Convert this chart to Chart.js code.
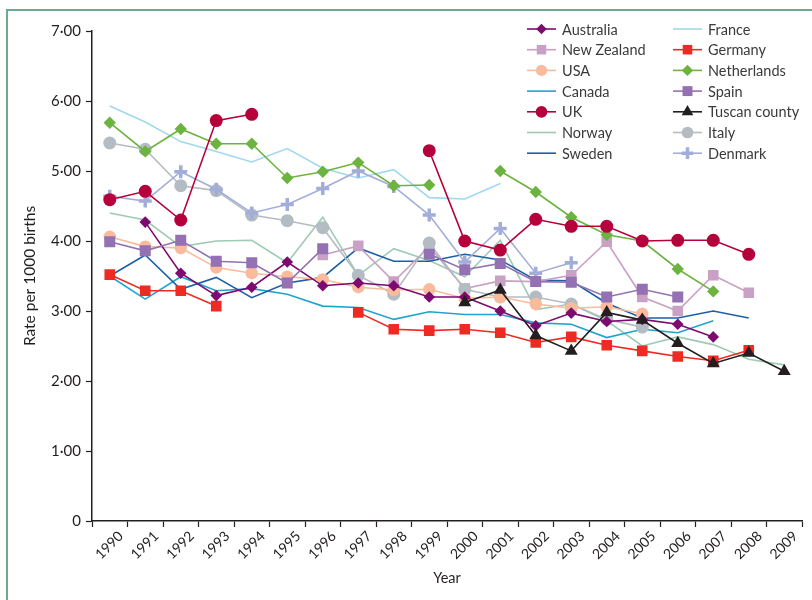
<!DOCTYPE html>
<html>
<head>
<meta charset="utf-8">
<title>Rate per 1000 births, 1990-2009</title>
<script src="https://cdn.jsdelivr.net/npm/chart.js@4.4.1/dist/chart.umd.min.js"></script>
<style>
    html, body { margin: 0; padding: 0; background: #fff; overflow: hidden; }
    #wrap { position: relative; width: 812px; height: 600px; }
    #wrap canvas { position: absolute; left: 0; top: 0; }
    /* green panel frame, only top and left edges fall inside the page */
    #frame { position: absolute; left: 6px; top: 9px; width: 900px; height: 700px;
             border: 2px solid #6cab8d; pointer-events: none; }
</style>
</head>
<body>
<div id="wrap">
    <canvas id="chart-rates" width="812" height="600"></canvas>
    <div id="frame"></div>
</div>
<script>
// Years on the x axis
const years = ['1990', '1991', '1992', '1993', '1994', '1995', '1996', '1997', '1998', '1999',
               '2000', '2001', '2002', '2003', '2004', '2005', '2006', '2007', '2008', '2009'];

// Rate per 1000 births, null where a country has no figure
const australia   = [null, 4.27, 3.54, 3.22, 3.34, 3.70, 3.36, 3.40, 3.36, 3.20, 3.20, 3.00, 2.79, 2.97, 2.85, 2.88, 2.81, 2.63, null, null];
const newZealand  = [null, null, null, null, null, null, 3.80, 3.93, 3.42, 3.92, 3.32, 3.43, 3.42, 3.51, 3.99, 3.20, 3.00, 3.51, 3.26, null];
const usa         = [4.06, 3.92, 3.90, 3.62, 3.54, 3.49, 3.45, 3.34, 3.30, 3.31, 3.18, 3.20, 3.10, 3.04, 3.06, 2.96, null, null, null, null];
const canada      = [3.50, 3.17, 3.49, 3.29, 3.32, 3.24, 3.07, 3.05, 2.88, 2.99, 2.95, 2.95, 2.83, 2.81, 2.62, 2.74, 2.69, 2.86, null, null];
const uk          = [4.59, 4.71, 4.30, 5.72, 5.81, null, null, null, null, 5.29, 4.00, 3.87, 4.31, 4.21, 4.21, 4.00, 4.01, 4.01, 3.81, null];
const norway      = [4.40, 4.30, 3.92, 4.00, 4.01, 3.69, 4.34, 3.51, 3.89, 3.72, 3.49, 4.01, 3.02, 3.10, 2.86, 2.50, 2.63, 2.52, 2.31, 2.23];
const sweden      = [3.50, 3.80, 3.31, 3.48, 3.19, 3.40, 3.48, 3.90, 3.71, 3.71, 3.81, 3.73, 3.44, 3.43, 3.11, 2.90, 2.90, 3.00, 2.90, null];
const france      = [5.93, 5.70, 5.42, 5.28, 5.13, 5.32, 5.04, 4.90, 5.02, 4.62, 4.60, 4.82, null, null, null, null, null, null, null, null];
const germany     = [3.52, 3.29, 3.29, 3.07, null, null, null, 2.98, 2.74, 2.72, 2.74, 2.69, 2.55, 2.63, 2.51, 2.43, 2.35, 2.29, 2.44, null];
const netherlands = [5.69, 5.28, 5.60, 5.39, 5.39, 4.90, 4.99, 5.12, 4.79, 4.80, null, 5.00, 4.70, 4.34, 4.09, 4.00, 3.60, 3.28, null, null];
const spain       = [3.99, 3.86, 4.01, 3.71, 3.69, 3.40, 3.89, null, null, 3.81, 3.59, 3.68, 3.42, 3.41, 3.20, 3.31, 3.20, null, null, null];
const tuscany     = [null, null, null, null, null, null, null, null, null, null, 3.12, 3.30, 2.65, 2.43, 2.98, 2.87, 2.54, 2.25, 2.40, 2.14];
const italy       = [5.40, 5.31, 4.79, 4.72, 4.37, 4.29, 4.19, 3.51, 3.24, 3.97, 3.31, 3.20, 3.20, 3.10, 2.88, 2.77, null, null, null, null];
const denmark     = [4.64, 4.57, 4.99, 4.74, 4.40, 4.52, 4.75, 5.00, 4.78, 4.37, 3.70, 4.18, 3.54, 3.69, null, null, null, null, null, null];

// y ticks: 0 to 7 in whole steps
const yTicks = [0, 1, 2, 3, 4, 5, 6, 7];

// legend columns, in reading order
const legendLeft  = ['Australia', 'New Zealand', 'USA', 'Canada', 'UK', 'Norway', 'Sweden'];
const legendRight = ['France', 'Germany', 'Netherlands', 'Spain', 'Tuscan county', 'Italy', 'Denmark'];

const FONT = 'Lato, "Noto Sans", sans-serif';
const INK = '#231f20';

// one line series; lower "order" is painted on top
function series(label, data, color, style, radius, order, pointLine) {
    return {
        label: label,
        data: data,
        borderColor: color,
        backgroundColor: color,
        borderWidth: 1.6,
        tension: 0,
        spanGaps: false,
        pointStyle: style || 'circle',
        pointRadius: style ? radius : 0,
        pointHoverRadius: style ? radius : 0,
        pointBackgroundColor: color,
        pointBorderColor: color,
        pointBorderWidth: pointLine || 0,
        order: order
    };
}

const datasets = [
    series('Australia',     australia,   '#7d0b6f', 'rectRot',  5.8, 3),
    series('New Zealand',   newZealand,  '#c9a1c5', 'rect',     7.5, 9),
    series('USA',           usa,         '#f9bb9c', 'circle',   6.2, 7),
    series('Canada',        canada,      '#20a4cf', null,       0,   12),
    series('UK',            uk,          '#b5003b', 'circle',   6.5, 1),
    series('Norway',        norway,      '#9fcab3', null,       0,   13),
    series('Sweden',        sweden,      '#1c5ea8', null,       0,   11),
    series('France',        france,      '#a0d8ee', null,       0,   14),
    series('Germany',       germany,     '#ee2b23', 'rect',     7.5, 4),
    series('Netherlands',   netherlands, '#6cb33f', 'rectRot',  6.2, 5),
    series('Spain',         spain,       '#9371b3', 'rect',     7.8, 2),
    series('Tuscan county', tuscany,     INK,       'triangle', 7.5, 0),
    series('Italy',         italy,       '#b4bcc3', 'circle',   6.5, 8),
    series('Denmark',       denmark,     '#a2aed9', 'cross',    6.5, 6, 3.5)
];

// two-column legend drawn in the upper right of the plot
const columnLegend = {
    id: 'columnLegend',
    afterDraw(chart) {
        const ctx = chart.ctx;
        const colX = [527, 673];
        const rowY = 29, rowGap = 20.7;
        ctx.save();
        ctx.font = '14.5px ' + FONT;
        ctx.textBaseline = 'middle';
        ctx.textAlign = 'left';
        [legendLeft, legendRight].forEach((names, c) => {
            names.forEach((name, r) => {
                const ds = chart.data.datasets.find(d => d.label === name);
                if (!ds) return;
                const x = colX[c], y = rowY + r * rowGap;
                ctx.strokeStyle = ds.borderColor;
                ctx.fillStyle = ds.borderColor;
                ctx.lineWidth = 1.6;
                ctx.beginPath();
                ctx.moveTo(x, y);
                ctx.lineTo(x + 29, y);
                ctx.stroke();
                if (ds.pointRadius > 0) {
                    ctx.lineWidth = ds.pointBorderWidth;
                    Chart.helpers.drawPoint(ctx, {
                        pointStyle: ds.pointStyle,
                        radius: ds.pointRadius * 0.9,
                        rotation: 0,
                        borderWidth: ds.pointBorderWidth
                    }, x + 14.5, y);
                }
                ctx.fillStyle = '#3a3a3a';
                ctx.fillText(name, x + 35, y + 1);
            });
        });
        ctx.restore();
    }
};

const ctx = document.getElementById('chart-rates').getContext('2d');
new Chart(ctx, {
    type: 'line',
    data: { labels: years, datasets: datasets },
    plugins: [columnLegend],
    options: {
        responsive: false,
        animation: false,
        devicePixelRatio: 1,
        layout: { padding: { top: 31, right: 6, bottom: 0, left: 0 } },
        plugins: {
            legend: { display: false },
            tooltip: { enabled: false }
        },
        scales: {
            x: {
                type: 'category',
                offset: true,
                afterFit(scale) { scale.height = 79; },
                grid: {
                    offset: true,
                    drawOnChartArea: false,
                    drawTicks: true,
                    tickLength: 6,
                    tickColor: INK,
                    tickWidth: 1.2
                },
                border: { display: true, color: INK, width: 1.5 },
                ticks: {
                    color: INK,
                    font: { family: FONT, size: 14 },
                    minRotation: 45,
                    maxRotation: 45,
                    autoSkip: false,
                    padding: 1,
                    labelOffset: 11
                },
                title: {
                    display: true,
                    text: 'Year',
                    color: INK,
                    font: { family: FONT, size: 14.5 },
                    padding: { top: 0, bottom: 13 }
                }
            },
            y: {
                min: 0,
                max: 7,
                afterFit(scale) { scale.width = 92; },
                afterBuildTicks(scale) { scale.ticks = yTicks.map(v => ({ value: v })); },
                grid: {
                    drawOnChartArea: false,
                    drawTicks: true,
                    tickLength: 6,
                    tickColor: INK,
                    tickWidth: 1.2
                },
                border: { display: true, color: INK, width: 1.5 },
                ticks: {
                    color: INK,
                    font: { family: FONT, size: 15 },
                    padding: 5,
                    callback: v => v === 0 ? '0' : v.toFixed(2).replace('.', '\u00b7')
                },
                title: {
                    display: true,
                    text: 'Rate per 1000 births',
                    color: INK,
                    font: { family: FONT, size: 15.5 },
                    padding: { top: 21, bottom: 0 }
                }
            }
        }
    }
});
</script>
</body>
</html>
